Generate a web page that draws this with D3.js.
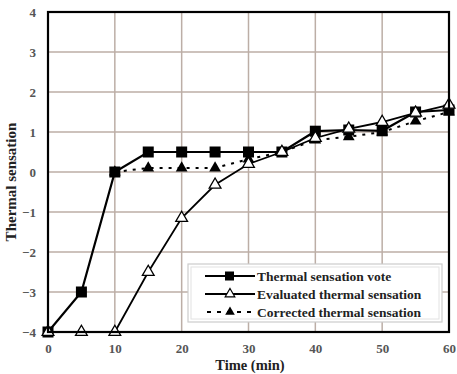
<!DOCTYPE html>
<html><head><meta charset="utf-8">
<script src="https://cdn.jsdelivr.net/npm/d3@7"></script>
<style>body{margin:0;background:#fff}svg{display:block}</style>
</head><body>
<script>
const timeVote = [0,5,10,15,20,25,30,35,40,45,50,55,60];
const voteValues = [-4,-3,0,0.5,0.5,0.5,0.5,0.5,1.02,1.05,1.03,1.5,1.55];
const timeEval = [0,5,10,15,20,25,30,35,40,45,50,55,60];
const evalValues = [-4,-4,-4,-2.5,-1.15,-0.32,0.2,0.5,0.85,1.08,1.25,1.48,1.68];
const timeCorr = [10,15,20,25,30,35,40,45,50,55,60];
const corrValues = [0,0.1,0.1,0.1,0.32,0.5,0.8,0.88,1.0,1.27,1.5];
const xTicks = [0,10,20,30,40,50,60];
const yTicks = [-4,-3,-2,-1,0,1,2,3,4];
const seriesNames = ["Thermal sensation vote","Evaluated thermal sensation","Corrected thermal sensation"];

const W=457,H=374, L=48,R=449,T=12,B=332;
const svg=d3.select("body").append("svg").attr("width",W).attr("height",H);
const x=d3.scaleLinear().domain([0,60]).range([L,R]);
const y=d3.scaleLinear().domain([-4,4]).range([B,T]);
const grid="#bcaea6";
const serif="'Liberation Serif','DejaVu Serif',serif";

// grid
svg.append("g").selectAll("line").data(xTicks.slice(1,-1)).join("line")
 .attr("x1",d=>x(d)).attr("x2",d=>x(d)).attr("y1",T).attr("y2",B)
 .attr("stroke",grid).attr("stroke-width",1.5);
svg.append("g").selectAll("line").data(yTicks.slice(1,-1)).join("line")
 .attr("y1",d=>y(d)).attr("y2",d=>y(d)).attr("x1",L).attr("x2",R)
 .attr("stroke",grid).attr("stroke-width",1.5);

// axes (labels only)
const xa=svg.append("g").attr("transform",`translate(0,${B})`)
 .call(d3.axisBottom(x).tickValues(xTicks).tickSize(0).tickPadding(12).tickFormat(d3.format("d")));
const ya=svg.append("g").attr("transform",`translate(${L},0)`)
 .call(d3.axisLeft(y).tickValues(yTicks).tickSize(0).tickPadding(12).tickFormat(d=>d<0?"\u2212"+Math.abs(d):d));
[xa,ya].forEach(a=>{a.select(".domain").remove();
 a.selectAll("text").attr("font-family",serif).attr("font-size",13).attr("font-weight","bold").attr("fill","#555");});

// series
function pts(t,v){return t.map((d,i)=>[d,v[i]]);}
const line=d3.line().x(d=>x(d[0])).y(d=>y(d[1]));
const tri=d3.symbol().type(d3.symbolTriangle).size(60);

const vote=pts(timeVote,voteValues), ev=pts(timeEval,evalValues), co=pts(timeCorr,corrValues);

svg.append("path").datum(vote).attr("d",line).attr("fill","none").attr("stroke","#000").attr("stroke-width",2.2);
svg.append("path").datum(co).attr("d",line).attr("fill","none").attr("stroke","#000").attr("stroke-width",2).attr("stroke-dasharray","3,6");
svg.append("path").datum(ev).attr("d",line).attr("fill","none").attr("stroke","#000").attr("stroke-width",1.8);

svg.append("g").selectAll("rect").data(vote).join("rect")
 .attr("x",d=>x(d[0])-5.5).attr("y",d=>y(d[1])-5.5).attr("width",11).attr("height",11).attr("fill","#000");
svg.append("g").selectAll("path").data(co).join("path")
 .attr("transform",d=>`translate(${x(d[0])},${y(d[1])})`).attr("d",tri).attr("fill","#000");
svg.append("g").selectAll("path").data(ev).join("path")
 .attr("transform",d=>`translate(${x(d[0])},${y(d[1])})`).attr("d",tri).attr("fill","#fff").attr("stroke","#000").attr("stroke-width",1.3);

// frame
svg.append("rect").attr("x",L).attr("y",T).attr("width",R-L).attr("height",B-T)
 .attr("fill","none").attr("stroke","#000").attr("stroke-width",2.2);

// legend
const lg=svg.append("g");
lg.append("rect").attr("x",188).attr("y",264).attr("width",254).attr("height",58)
 .attr("fill","#fff").attr("stroke","#ccc").attr("stroke-width",1.2);
lg.append("rect").attr("x",191).attr("y",267).attr("width",248).attr("height",52)
 .attr("fill","none").attr("stroke","#e2e2e2").attr("stroke-width",1);
const rows=[276,294,312];
rows.forEach((ry,i)=>{
  const l=lg.append("line").attr("x1",205).attr("x2",255).attr("y1",ry).attr("y2",ry).attr("stroke","#000");
  if(i===0) l.attr("stroke-width",2.2);
  if(i===1) l.attr("stroke-width",1.8);
  if(i===2) l.attr("stroke-width",2).attr("stroke-dasharray","4,6").attr("x1",207);
  if(i===0) lg.append("rect").attr("x",225).attr("y",ry-4.5).attr("width",9).attr("height",9).attr("fill","#000");
  if(i===1) lg.append("path").attr("transform",`translate(230,${ry})`).attr("d",d3.symbol().type(d3.symbolTriangle).size(40)).attr("fill","#fff").attr("stroke","#000").attr("stroke-width",1.2);
  if(i===2) lg.append("path").attr("transform",`translate(230,${ry})`).attr("d",d3.symbol().type(d3.symbolTriangle).size(40)).attr("fill","#000");
  lg.append("text").attr("x",257).attr("y",ry+4.5).text(seriesNames[i])
   .attr("font-family",serif).attr("font-size",13.5).attr("font-weight","bold").attr("fill","#222");
});

// axis titles
svg.append("text").attr("x",250).attr("y",370).attr("text-anchor","middle").text("Time (min)")
 .attr("font-family",serif).attr("font-size",14.5).attr("font-weight","bold").attr("fill","#222");
svg.append("text").attr("transform","translate(16,182) rotate(-90)").attr("text-anchor","middle").text("Thermal sensation")
 .attr("font-family",serif).attr("font-size",15).attr("font-weight","bold").attr("fill","#222");
</script>
</body></html>
